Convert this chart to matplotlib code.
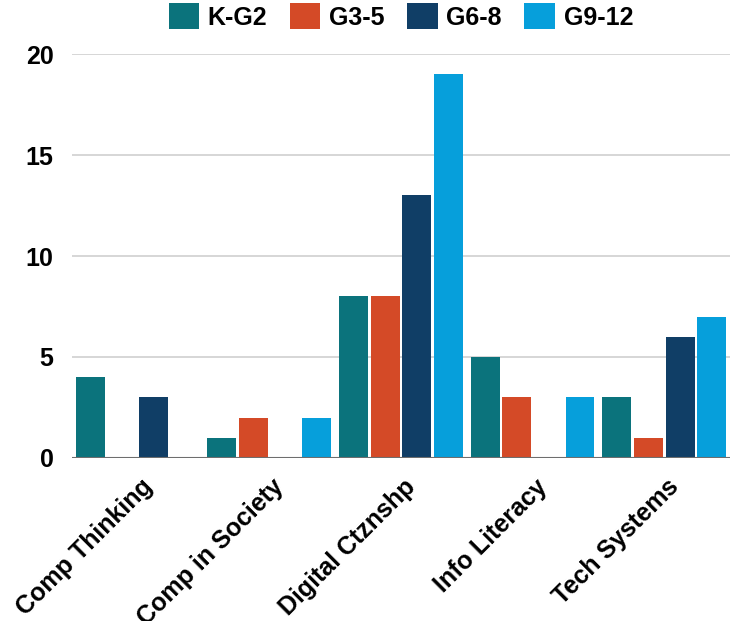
import matplotlib.pyplot as plt
import matplotlib.transforms as mtransforms
import numpy as np

plt.rcParams['font.family'] = ['Liberation Sans', 'DejaVu Sans']
plt.rcParams['font.weight'] = 'bold'

categories = ['Comp Thinking', 'Comp in Society', 'Digital Ctznshp', 'Info Literacy', 'Tech Systems']
grades = ['K-G2', 'G3-5', 'G6-8', 'G9-12']
k_g2 = [4, 1, 8, 5, 3]
g3_5 = [0, 2, 8, 3, 1]
g6_8 = [3, 0, 13, 0, 6]
g9_12 = [0, 2, 19, 3, 7]
colors = ['#0b737c', '#d44a27', '#103e66', '#069fdb']

fig = plt.figure(figsize=(7.39, 6.21), dpi=100)
ax = fig.add_axes([0.097, 0.2625, 0.891, 0.6505])

x = np.arange(len(categories))
width = 0.22
step = 0.24
series = [k_g2, g3_5, g6_8, g9_12]
for i, (vals, name, c) in enumerate(zip(series, grades, colors)):
    ax.bar(x + (i - 1.5) * step, vals, width, color=c, label=name, zorder=3)

ax.set_xlim(-0.5, len(categories) - 0.5)
ax.set_ylim(0, 20)
ax.set_yticks([0, 5, 10, 15, 20])
ax.yaxis.grid(True, color='#d0d0d0', lw=1.2, zorder=0)
ax.axhline(0, color='#6e6e6e', lw=1.5, zorder=4)
ax.tick_params(axis='both', length=0, labelsize=18)
ax.tick_params(axis='y', pad=13)
ax.tick_params(axis='x', pad=12)
for s in ax.spines.values():
    s.set_visible(False)

# rotated category labels, nudged a little right of the tick
ax.set_xticks(x)
ax.set_xticklabels(categories, rotation=45, ha='right', rotation_mode='anchor')
shift = mtransforms.ScaledTranslation(2 / 72, 0, fig.dpi_scale_trans)
for lbl in ax.get_xticklabels():
    lbl.set_transform(lbl.get_transform() + shift)

ax.legend(loc='center', bbox_to_anchor=(0.5, 1.093), ncol=4, frameon=False,
          fontsize=18, handlelength=1.22, handleheight=1.22, handletextpad=0.35,
          columnspacing=0.9, borderpad=0)

fig.savefig('out.png', dpi=100)
